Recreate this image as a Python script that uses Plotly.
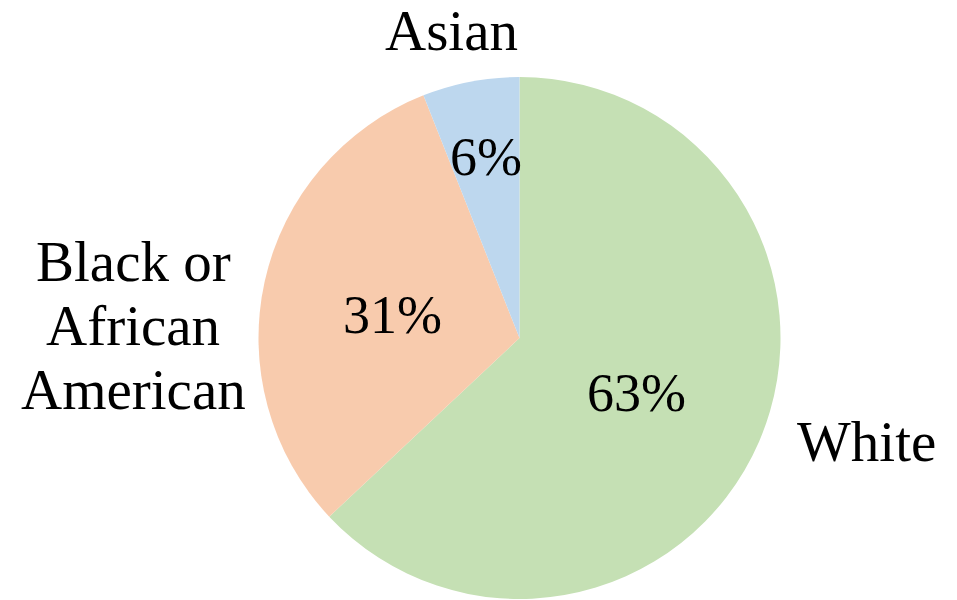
import plotly.graph_objects as go

# Population share by race
labels = ["White", "Black or African American", "Asian"]
values = [63, 31, 6]
colors = ["#C5E0B4", "#F8CBAD", "#BDD7EE"]

# How each category name is broken across lines
label_lines = {
    "White": ["White"],
    "Black or African American": ["Black or", "African", "American"],
    "Asian": ["Asian"],
}

W, H = 957, 600
FONT = "Liberation Serif"
NAME_SIZE = 57
PCT_SIZE = 54

fig = go.Figure(go.Pie(
    labels=labels,
    values=values,
    sort=False,
    direction="clockwise",
    rotation=0,
    textinfo="none",
    hoverinfo="label+percent",
    marker=dict(colors=colors, line=dict(width=0)),
    showlegend=False,
    domain=dict(x=[258.5 / W, 780.5 / W], y=[1 / H, 523 / H]),
))

# Pixel placement of category names and percentages
name_pos = {
    "White": (866, 441),
    "Black or African American": (133, 261),
    "Asian": (451, 30),
}
pct_pos = {
    "White": (636, 393),
    "Black or African American": (392, 315),
    "Asian": (486, 157),
}
LINE_GAP = 64

total = sum(values)
annotations = []
for lab, val in zip(labels, values):
    px, py = pct_pos[lab]
    annotations.append(dict(
        text=f"{round(100 * val / total)}%", x=px / W, y=1 - py / H,
        xref="paper", yref="paper", xanchor="center", yanchor="middle",
        showarrow=False, font=dict(family=FONT, size=PCT_SIZE, color="#000000"),
    ))
    nx, ny = name_pos[lab]
    for i, line in enumerate(label_lines[lab]):
        annotations.append(dict(
            text=line, x=nx / W, y=1 - (ny + i * LINE_GAP) / H,
            xref="paper", yref="paper", xanchor="center", yanchor="middle",
            showarrow=False, font=dict(family=FONT, size=NAME_SIZE, color="#000000"),
        ))

fig.update_layout(
    width=W, height=H,
    margin=dict(l=0, r=0, t=0, b=0),
    paper_bgcolor="#FFFFFF",
    plot_bgcolor="#FFFFFF",
    annotations=annotations,
)

fig.write_html("out.html")
